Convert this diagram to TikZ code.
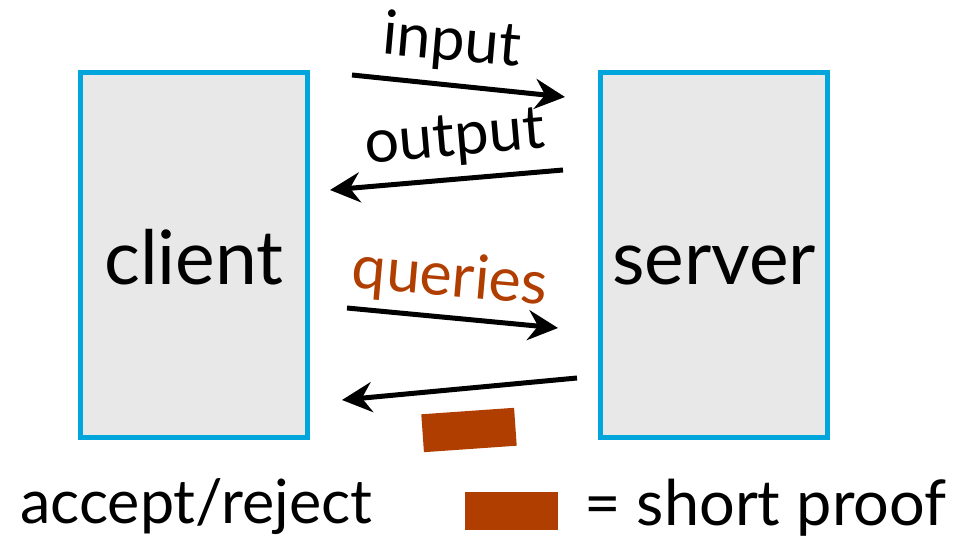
\documentclass[tikz,border=0pt]{standalone}
\usepackage{fontspec}
\setmainfont{Lato}
\usetikzlibrary{arrows.meta}
\definecolor{boxline}{RGB}{0,165,219}
\definecolor{boxfill}{RGB}{232,232,232}
\definecolor{proof}{RGB}{176,62,0}
\begin{document}
\begin{tikzpicture}[x=1pt,y=1pt,
  party/.style={draw=boxline,line width=5pt,fill=boxfill,minimum width=227pt,minimum height=365pt,inner sep=0pt},
  msg/.style={line width=5pt,-{Stealth[length=30pt,width=30pt,inset=10pt]}},
  lbl/.style={font=\fontsize{61}{66}\selectfont,inner sep=0pt},
  big/.style={font=\fontsize{75}{80}\selectfont,inner sep=0pt},
  proofbox/.style={fill=proof,minimum width=93pt,minimum height=38pt,inner sep=0pt}]
\useasboundingbox (0,0) rectangle (968,549);
% client and server
\node[party] (client) at (194,294) {};
\node[party] (server) at (714,294) {};
\node[big,anchor=base] (clientlbl) at (194,264) {client};
\node[big,anchor=base] (serverlbl) at (714,264) {server};
% messages
\coordinate (inA) at (352,474);
\coordinate (inB) at (565,452);
\draw[msg] (inA) -- (inB);
\node[lbl,rotate=-5] (inlbl) at (452,506) {input};
\coordinate (outA) at (563,379);
\coordinate (outB) at (330,359);
\draw[msg] (outA) -- (outB);
\node[lbl,rotate=5] (outlbl) at (455,409) {output};
\coordinate (qA) at (347,241);
\coordinate (qB) at (558,221);
\draw[msg] (qA) -- (qB);
\node[lbl,rotate=-5,text=proof] (qlbl) at (450,270) {queries};
\coordinate (rA) at (577,171);
\coordinate (rB) at (342,149);
\draw[msg] (rA) -- (rB);
\node[proofbox,rotate=4] (proofmsg) at (469,119) {};
% legend
\node[lbl,anchor=base west] (acc) at (20,26) {accept/reject};
\node[proofbox] (legendbox) at (511.5,38.5) {};
\node[lbl,anchor=base west,font=\fontsize{63}{68}\selectfont] (legendtxt) at (584,24) {= short proof};
\end{tikzpicture}
\end{document}
